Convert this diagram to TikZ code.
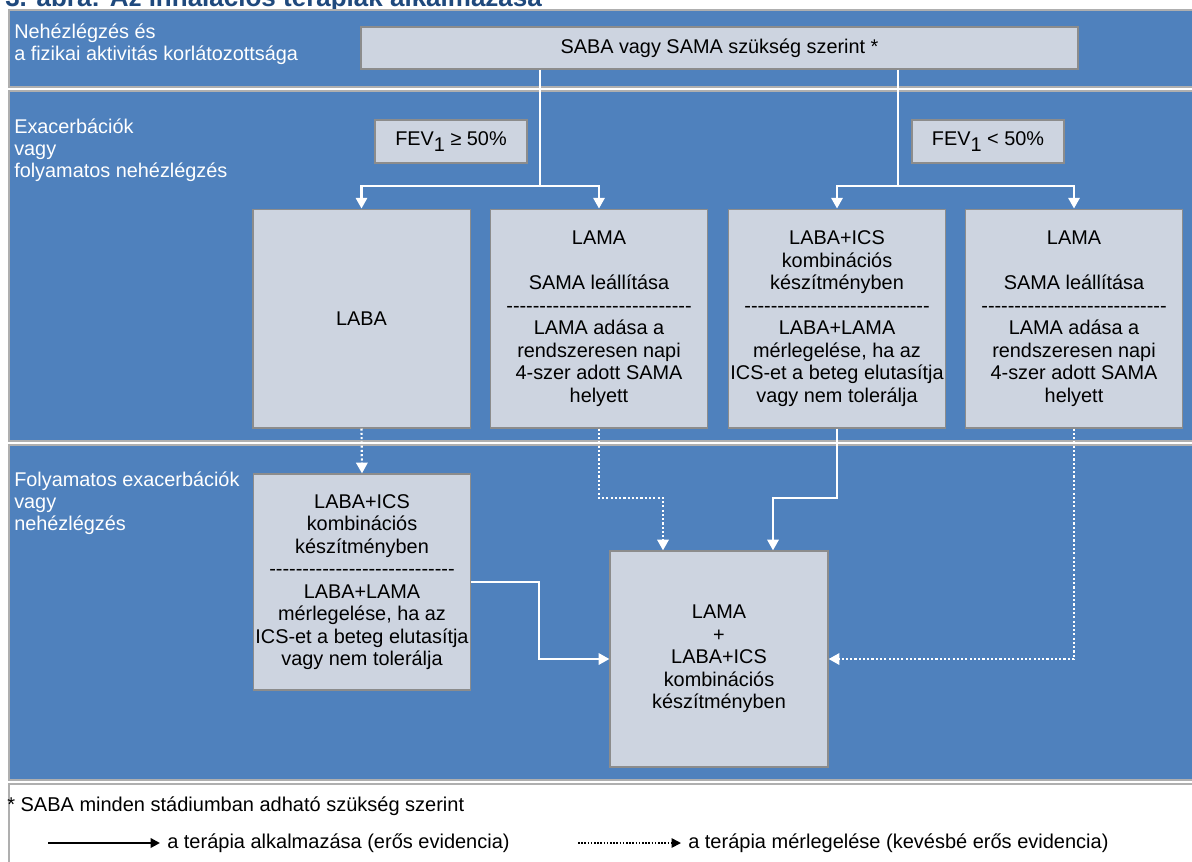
\documentclass[tikz,border=0pt]{standalone}
\usepackage{fontspec}
\setmainfont{Liberation Sans}
\usetikzlibrary{arrows.meta,calc}
\definecolor{bandblue}{HTML}{4F81BD}
\definecolor{boxfill}{HTML}{CDD4E0}
\definecolor{boxline}{HTML}{8C8C8C}
\definecolor{titleblue}{HTML}{1F497D}
\newcommand\dashrow{\foreach\i in {1,...,28}{-}}
\begin{document}
\begin{tikzpicture}[x=0.75pt,y=-0.75pt,
  box/.style={draw=boxline, fill=boxfill, line width=1pt, inner sep=0pt, align=center,
    font=\fontsize{14.9}{16.9}\selectfont, text=black},
  lbl/.style={text=white, align=left, anchor=west, inner sep=0pt,
    font=\fontsize{14.9}{16.5}\selectfont},
  band/.style={fill=bandblue, draw=boxline!70, line width=0.8pt},
  wline/.style={draw=white, line width=1.6pt},
  warrow/.style={wline, -{Triangle[width=8.5pt,length=8pt]}},
  wdot/.style={draw=white, line width=1.6pt, dash pattern=on 1.6pt off 1.6pt, -{Triangle[width=8.5pt,length=8pt]}},
  legtext/.style={anchor=west, inner sep=0pt, font=\fontsize{15}{16}\selectfont},
]
\useasboundingbox (0,0) rectangle (1192,861);
\clip (0,0) rectangle (1192,861);
\fill[white] (0,0) rectangle (1192,861);

% title (cut off at top, as in the reference)
\node[anchor=base west, inner sep=0pt, text=titleblue, font=\bfseries\fontsize{19.5}{21}\selectfont] (title) at (5,6) {3. ábra: Az inhalációs terápiák alkalmazása};

% bands
\draw[band] (9,10) rectangle (1200,87);
\draw[band] (9,91) rectangle (1200,441);
\draw[band] (9,445) rectangle (1200,780);
\draw[draw=boxline!70, fill=white, line width=0.8pt] (9,784) rectangle (1200,870);

% band labels
\node[lbl] (l1) at (14,44) {Nehézlégzés és\\a fizikai aktivitás korlátozottsága};
\node[lbl] (l2) at (14,150) {Exacerbációk\\vagy\\folyamatos nehézlégzés};
\node[lbl] (l3) at (14,503) {Folyamatos exacerbációk\\vagy\\nehézlégzés};

% boxes
\node[box, minimum width=537.75pt, minimum height=31.5pt] (saba) at (719.5,48) {SABA vagy SAMA szükség szerint *};
\node[box, minimum width=114pt, minimum height=32.25pt] (feva) at (451,141.5) {FEV\raisebox{-4.5pt}{1} ≥ 50\%};
\node[box, minimum width=114pt, minimum height=32.25pt] (fevb) at (988,141.5) {FEV\raisebox{-4.5pt}{1} < 50\%};

\node[box, minimum width=163pt, minimum height=164pt] (laba) at (361.5,318.5) {LABA};
\node[box, minimum width=163pt, minimum height=164pt] (lama1) at (599,318.5) {LAMA\\\mbox{}\\SAMA leállítása\\\dashrow\\LAMA adása a\\rendszeresen napi\\4-szer adott SAMA\\helyett};
\node[box, minimum width=163pt, minimum height=164pt] (labaics) at (837,318.5) {LABA+ICS\\kombinációs\\készítményben\\\dashrow\\LABA+LAMA\\mérlegelése, ha az\\ICS-et a beteg elutasítja\\vagy nem tolerálja};
\node[box, minimum width=163pt, minimum height=164pt] (lama2) at (1074,318.5) {LAMA\\\mbox{}\\SAMA leállítása\\\dashrow\\LAMA adása a\\rendszeresen napi\\4-szer adott SAMA\\helyett};

\node[box, minimum width=163pt, minimum height=162pt] (r3) at (362,582) {LABA+ICS\\kombinációs\\készítményben\\\dashrow\\LABA+LAMA\\mérlegelése, ha az\\ICS-et a beteg elutasítja\\vagy nem tolerálja};
\node[box, minimum width=163.5pt, minimum height=162pt] (final) at (719,659) {LAMA\\+\\LABA+ICS\\kombinációs\\készítményben};

% connectors
\coordinate (j1) at (540,186);
\coordinate (j2) at (898,186);
\draw[wline] (saba.south -| j1) -- (j1);
\draw[warrow] (j1) -| (laba.north);
\draw[warrow] (j1) -| (lama1.north);
\draw[wline] (saba.south -| j2) -- (j2);
\draw[warrow] (j2) -| (labaics.north);
\draw[warrow] (j2) -| (lama2.north);

\draw[wdot] (laba.south) -- (r3.north);
\coordinate (fa) at (663,498);
\draw[wdot] (lama1.south) |- (fa) -- (fa |- final.north);
\coordinate (fb) at (773,498);
\draw[warrow] (labaics.south) |- (fb) -- (fb |- final.north);
\draw[wdot] (lama2.south) |- (final.east);
\coordinate (fc) at (539,582);
\draw[warrow] (r3.east) -- (fc) |- (final.west);

% legend
\node[legtext] (note) at (7,806) {* SABA minden stádiumban adható szükség szerint};
\coordinate (la1) at (48,843);
\coordinate (la2) at (160,843);
\draw[black, line width=2pt, -{Triangle[width=7pt,length=7pt]}] (la1) -- (la2);
\node[legtext] (lt1) at (167,843) {a terápia alkalmazása (erős evidencia)};
\coordinate (lb1) at (578,843);
\coordinate (lb2) at (681,843);
\draw[black, line width=1.2pt, dash pattern=on 1.2pt off 1.2pt, -{Triangle[width=7pt,length=7pt]}] (lb1) -- (lb2);
\node[legtext] (lt2) at (688,843) {a terápia mérlegelése (kevésbé erős evidencia)};
\end{tikzpicture}
\end{document}
